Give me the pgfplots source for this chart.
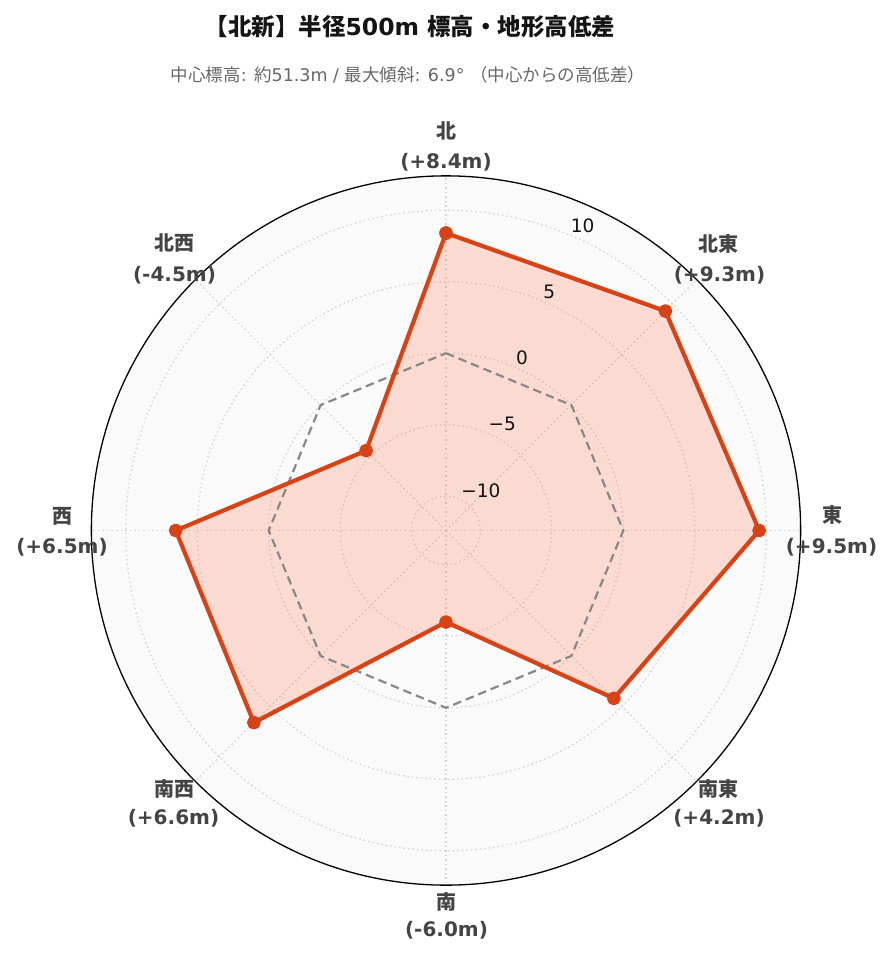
\documentclass[border=0pt]{standalone}
\usepackage{fontspec}
\setmainfont{DejaVu Sans}
\newfontfamily\cjk{Noto Sans CJK JP}
\usepackage{pgfplots}
\pgfplotsset{compat=1.18}
\usepackage{pgfplotstable}

\definecolor{lineC}{HTML}{D84315}
\definecolor{fillC}{HTML}{FF7043}
\definecolor{bgC}{HTML}{FAFAFA}
\definecolor{gridC}{HTML}{D2D2D2}
\definecolor{labC}{HTML}{444444}
\definecolor{subC}{HTML}{666666}
\definecolor{zeroC}{HTML}{888888}
\definecolor{tickC}{HTML}{111111}

% direction angle (deg, math convention) and elevation difference (m)
\pgfplotstableread{
ang v
90 8.4
45 9.3
0 9.5
-45 4.2
-90 -6.0
-135 6.6
180 6.5
135 -4.5
90 8.4
}\elev

\pgfplotstableread{
ang v
90 0
45 0
0 0
-45 0
-90 0
-135 0
180 0
135 0
90 0
}\zeroline

\tikzset{gridline/.style={gridC, line width=1.2pt, dash pattern=on 1.5pt off 3pt},
  lab/.style={inner sep=0pt, text=labC, font=\fontsize{20}{24}\bfseries\selectfont},
  tlab/.style={inner sep=0pt, anchor=west, xshift=2pt, yshift=8.5pt, text=tickC, font=\fontsize{18.5}{22}\selectfont}}

\begin{document}
\begin{tikzpicture}
\path[use as bounding box] (0,0) rectangle (893pt,-962pt);
\begin{axis}[at={(446pt,-530.5pt)}, anchor=center,
  x=14.3pt, y=14.3pt, xmin=-24.8, xmax=24.8, ymin=-24.8, ymax=24.8,
  hide axis, clip=false]
\fill[bgC] (axis cs:0,0) circle[radius=354.64pt];
\draw[gridline] (axis cs:0,0) circle[radius=34.32pt];
\draw[gridline] (axis cs:0,0) circle[radius=105.82pt];
\draw[gridline] (axis cs:0,0) circle[radius=177.32pt];
\draw[gridline] (axis cs:0,0) circle[radius=248.82pt];
\draw[gridline] (axis cs:0,0) circle[radius=320.32pt];
\draw[gridline] (axis cs:0,0) -- (axis cs:24.8,0);
\draw[gridline] (axis cs:0,0) -- (axis cs:-24.8,0);
\draw[gridline] (axis cs:0,0) -- (axis cs:0,24.8);
\draw[gridline] (axis cs:0,0) -- (axis cs:0,-24.8);
\draw[gridline] (axis cs:0,0) -- (axis cs:17.536,17.536);
\draw[gridline] (axis cs:0,0) -- (axis cs:-17.536,17.536);
\draw[gridline] (axis cs:0,0) -- (axis cs:17.536,-17.536);
\draw[gridline] (axis cs:0,0) -- (axis cs:-17.536,-17.536);
\draw[black, line width=1.3pt] (axis cs:0,0) circle[radius=354.64pt];

\addplot[draw=none, fill=fillC, fill opacity=0.22] table[
  x expr={(\thisrow{v}+12.4)*cos(\thisrow{ang})},
  y expr={(\thisrow{v}+12.4)*sin(\thisrow{ang})}] {\elev};
\addplot[zeroC, line width=2.2pt, dash pattern=on 8.5pt off 5pt] table[
  x expr={(\thisrow{v}+12.4)*cos(\thisrow{ang})},
  y expr={(\thisrow{v}+12.4)*sin(\thisrow{ang})}] {\zeroline};
\addplot[lineC, line width=4.2pt, line join=round, mark=*, mark size=4.8pt,
  mark options={draw=none, fill=lineC}] table[
  x expr={(\thisrow{v}+12.4)*cos(\thisrow{ang})},
  y expr={(\thisrow{v}+12.4)*sin(\thisrow{ang})}] {\elev};

\node[tlab] at (axis cs:0.918,2.217) {−10};
\node[tlab] at (axis cs:2.832,6.837) {−5};
\node[tlab] at (axis cs:4.745,11.456) {0};
\node[tlab] at (axis cs:6.659,16.076) {5};
\node[tlab] at (axis cs:8.572,20.695) {10};
\end{axis}

\node[font=\fontsize{23.5}{28}\bfseries\selectfont, text=black!92] at (410pt,-27pt)
  {{\cjk 【北新】半径}500m {\cjk 標高・地形高低差}};
\node[font=\fontsize{17.5}{21}\selectfont, text=subC] at (408pt,-75pt)
  {{\cjk 中心標高}: {\cjk 約}51.3m / {\cjk 最大傾斜}: 6.9° {\cjk （中心からの高低差）}};

\node[lab] at (446pt,-130.5pt) {\cjk 北};
\node[lab] at (446pt,-162pt) {(+8.4m)};
\node[lab] at (718.5pt,-244pt) {\cjk 北東};
\node[lab] at (719.5pt,-275pt) {(+9.3m)};
\node[lab] at (832pt,-515pt) {\cjk 東};
\node[lab] at (831.5pt,-547pt) {(+9.5m)};
\node[lab] at (718.5pt,-788.5pt) {\cjk 南東};
\node[lab] at (719pt,-818.5pt) {(+4.2m)};
\node[lab] at (446pt,-901.5pt) {\cjk 南};
\node[lab] at (446.5pt,-930.5pt) {(-6.0m)};
\node[lab] at (174pt,-788.5pt) {\cjk 南西};
\node[lab] at (173.5pt,-818.5pt) {(+6.6m)};
\node[lab] at (62pt,-516pt) {\cjk 西};
\node[lab] at (62pt,-547pt) {(+6.5m)};
\node[lab] at (174pt,-243.5pt) {\cjk 北西};
\node[lab] at (174.5pt,-275pt) {(-4.5m)};
\end{tikzpicture}
\end{document}
